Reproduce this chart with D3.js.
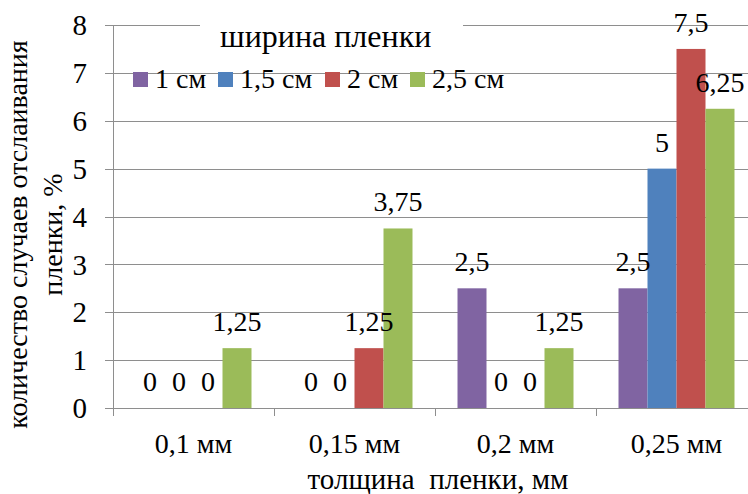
<!DOCTYPE html>
<html><head><meta charset="utf-8">
<script src="https://cdn.jsdelivr.net/npm/d3@7/dist/d3.min.js"></script>
</head><body style="margin:0">
<svg id="c" width="748" height="494" font-family="Liberation Serif"></svg>
<script>
const categories = ["0,1 мм", "0,15 мм", "0,2 мм", "0,25 мм"];
const seriesNames = ["1 см", "1,5 см", "2 см", "2,5 см"];
const seriesColors = ["#8064A2", "#4F81BD", "#C0504D", "#9BBB59"];
const values1cm  = [0, 0, 2.5, 2.5];
const values15cm = [0, 0, 0, 5];
const values2cm  = [0, 1.25, 0, 7.5];
const values25cm = [1.25, 3.75, 1.25, 6.25];
const yTicks = [0, 1, 2, 3, 4, 5, 6, 7, 8];
const legendTitle = "ширина пленки";
const xTitle = "толщина  пленки, мм";
const yTitleLines = ["количество случаев отслаивания", "пленки, %"];

const seriesValues = [values1cm, values15cm, values2cm, values25cm];
const fmt = v => String(v).replace(".", ",");
const svg = d3.select("#c");
const pLeft = 113, pRight = 757, pTop = 25, pBottom = 408;
const x = d3.scaleBand().domain(categories).range([pLeft, pRight]).paddingInner(0).paddingOuter(0);
const xs = d3.scaleBand().domain(seriesNames).range([0, x.bandwidth()]).paddingInner(0).paddingOuter(0.776);
const y = d3.scaleLinear().domain([0, 8]).range([pBottom, pTop]);
const legendX = d3.scaleOrdinal().domain(seriesNames).range([133, 218, 325, 410]);
const gridColor = "#8e8e8e";

function txt(sel) {
  return sel.attr("font-family", "Liberation Serif")
    .style("font-family", "Liberation Serif, Tinos, Times New Roman, serif")
    .attr("fill", "#000");
}

svg.append("g").selectAll("line").data(yTicks).join("line")
  .attr("x1", pLeft - 8).attr("x2", pRight)
  .attr("y1", d => Math.round(y(d)) + 0.5).attr("y2", d => Math.round(y(d)) + 0.5)
  .attr("stroke", gridColor).attr("stroke-width", 1);

svg.append("line").attr("x1", pLeft + 0.5).attr("x2", pLeft + 0.5)
  .attr("y1", pTop).attr("y2", pBottom).attr("stroke", gridColor);

svg.append("g").selectAll("line").data(categories).join("line")
  .attr("x1", c => Math.round(x(c)) + 0.5).attr("x2", c => Math.round(x(c)) + 0.5)
  .attr("y1", pBottom).attr("y2", pBottom + 8).attr("stroke", gridColor);

txt(svg.append("g").selectAll("text").data(yTicks).join("text")
  .attr("x", 87).attr("y", d => y(d)).attr("dy", "0.35em")
  .attr("text-anchor", "end").attr("font-size", 29)).text(d => d);

const groups = svg.append("g").selectAll("g").data(categories).join("g")
  .attr("transform", c => `translate(${x(c)},0)`);
seriesNames.forEach((s, si) => {
  groups.append("rect")
    .attr("x", xs(s))
    .attr("width", xs.bandwidth())
    .attr("y", (c, ci) => y(seriesValues[si][ci]))
    .attr("height", (c, ci) => pBottom - y(seriesValues[si][ci]))
    .attr("fill", seriesColors[si]);
});

svg.append("rect").attr("x", 200).attr("y", 18).attr("width", 263).attr("height", 40).attr("fill", "#fff");
txt(svg.append("text").attr("x", 220).attr("y", 47).attr("font-size", 32)).text(legendTitle);

seriesNames.forEach((s, si) => {
  txt(groups.append("text")
    .attr("x", xs(s) + xs.bandwidth() / 2)
    .attr("y", (c, ci) => y(seriesValues[si][ci]) - 17)
    .attr("text-anchor", "middle").attr("font-size", 28))
    .text((c, ci) => fmt(seriesValues[si][ci]));
});

const leg = svg.append("g").selectAll("g").data(seriesNames).join("g")
  .attr("transform", s => `translate(${legendX(s)},0)`);
leg.append("rect").attr("x", 0).attr("y", 72).attr("width", 15).attr("height", 15)
  .attr("fill", (s, i) => seriesColors[i]);
txt(leg.append("text").attr("x", 22).attr("y", 88).attr("font-size", 28)).text(s => s);

txt(svg.append("g").selectAll("text").data(categories).join("text")
  .attr("x", c => x(c) + x.bandwidth() / 2).attr("y", 453)
  .attr("text-anchor", "middle").attr("font-size", 28)).text(c => c);

txt(svg.append("text").attr("x", 438).attr("y", 489).attr("text-anchor", "middle")
  .attr("font-size", 29).style("white-space", "pre")).text(xTitle);

const yt = txt(svg.append("text").attr("transform", "translate(0,234.5) rotate(-90)")
  .attr("text-anchor", "middle").attr("font-size", 28));
yt.append("tspan").attr("x", 0).attr("y", 27).text(yTitleLines[0]);
yt.append("tspan").attr("x", 0).attr("y", 62).text(yTitleLines[1]);
</script>
</body></html>
